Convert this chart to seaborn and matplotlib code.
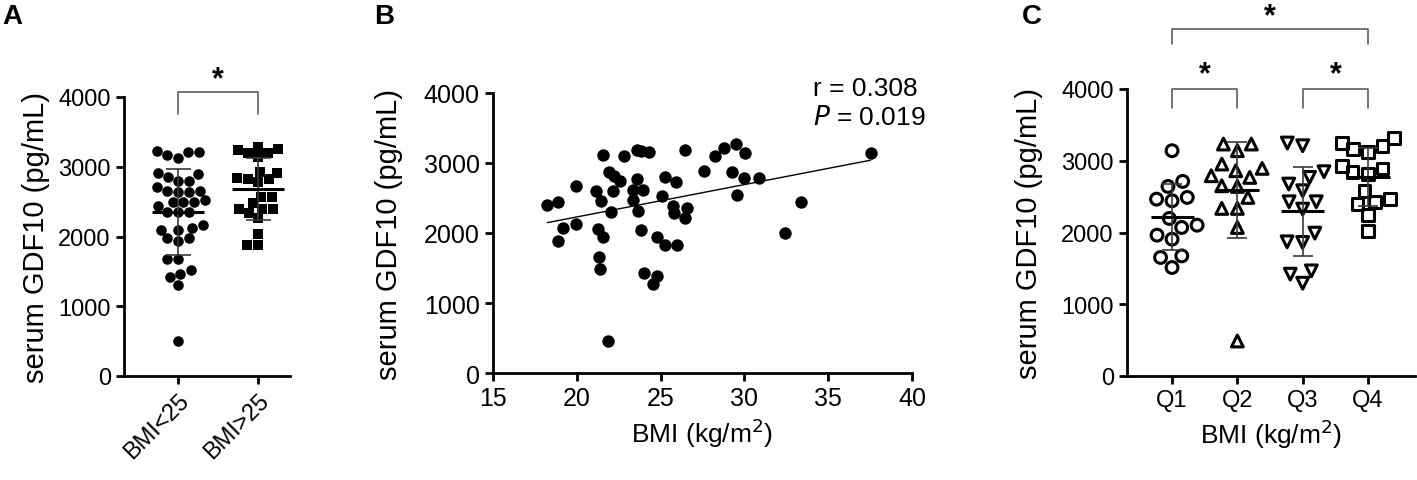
import warnings
import numpy as np
import pandas as pd
import matplotlib
matplotlib.use("Agg")
import matplotlib.pyplot as plt
from matplotlib.collections import PathCollection
import seaborn as sns

warnings.filterwarnings("ignore")

# ---- Panel A: GDF10 by BMI group (pg/mL)
bmi_low = [3167, 3205, 3128, 3205, 3224, 2914, 2857, 2890, 2795, 2795, 2714,
           2657, 2643, 2657, 2643, 2524, 2490, 2490, 2490, 2443, 2357, 2357,
           2357, 2167, 2095, 2095, 2119, 1976, 1976, 1929, 1676, 1676, 1524,
           1467, 1414, 1310, 500]
bmi_high = [3250, 3240, 3140, 3190, 3290, 3190, 2914, 2930, 2843, 2820, 2786,
            2824, 2571, 2571, 2476, 2400, 2400, 2400, 2333, 2262, 2033, 1871,
            1871]
groups_a = ["BMI<25", "BMI>25"]

# ---- Panel B: BMI vs GDF10
bmi = [18.24, 18.86, 19.2, 18.86, 19.93, 19.93, 21.58, 22.82, 23.57, 23.85,
       24.3, 21.15, 21.44, 21.92, 22.24, 22.58, 22.14, 22.04, 21.28, 21.54,
       21.34, 21.4, 21.88, 23.57, 23.37, 23.97, 23.37, 23.67, 23.81, 24.77,
       24.01, 25.07, 26.46, 25.26, 25.92, 25.76, 26.59, 25.8, 26.46, 25.26,
       26.0, 24.77, 24.57, 27.59, 28.25, 28.78, 29.5, 30.04, 29.28, 29.99,
       30.89, 29.58, 32.42, 33.36, 37.53]
gdf10 = [2405, 2438, 2071, 1886, 2667, 2129, 3114, 3105, 3190, 3170,
         3162, 2600, 2457, 2876, 2819, 2748, 2600, 2305, 2057, 1938,
         1662, 1486, 462, 2771, 2619, 2619, 2476, 2314, 2048, 1950,
         1424, 2533, 3190, 2795, 2724, 2381, 2362, 2281, 2210, 1829,
         1833, 1390, 1271, 2890, 3095, 3210, 3271, 3143, 2867, 2786,
         2781, 2543, 1995, 2438, 3143]

# ---- Panel C: GDF10 by BMI quartile
q1 = [3140, 2712, 2642, 2489, 2442, 2465, 2196, 2102, 1963, 2070, 1907,
      1674, 1652, 1512]
q2 = [3233, 3233, 3140, 2894, 2954, 2768, 2791, 2861, 2651, 2642, 2489,
      2336, 2336, 2070, 488]
q3 = [3247, 3209, 2847, 2768, 2675, 2582, 2428, 2428, 2326, 1991, 1861,
      1870, 1465, 1419, 1293]
q4 = [3312, 3200, 3247, 3126, 3163, 2930, 2893, 2838, 2814, 2582, 2428,
      2465, 2396, 2242, 2023]
quartiles = ["Q1", "Q2", "Q3", "Q4"]

sns.set_theme(style="ticks")
plt.rcParams["font.family"] = ["Liberation Sans", "DejaVu Sans"]
plt.rcParams["axes.linewidth"] = 2
plt.rcParams["xtick.major.width"] = 2
plt.rcParams["ytick.major.width"] = 2
plt.rcParams["xtick.major.size"] = 6
plt.rcParams["ytick.major.size"] = 6
plt.rcParams["axes.labelsize"] = 21
plt.rcParams["axes.edgecolor"] = "black"
plt.rcParams["xtick.color"] = "black"
plt.rcParams["ytick.color"] = "black"
plt.rcParams["text.color"] = "black"
plt.rcParams["axes.labelcolor"] = "black"

W, H = 1417, 481
fig = plt.figure(figsize=(W / 100, H / 100), dpi=100)


def px_axes(left, right, top, bottom):
    return fig.add_axes([left / W, 1 - bottom / H, (right - left) / W, (bottom - top) / H])


def mean_sd(ax, pos, vals, half, cap):
    m, s = np.mean(vals), np.std(vals, ddof=1)
    ax.errorbar(pos, m, yerr=s, fmt="none", ecolor="#3a3a3a", elinewidth=1.2,
                capsize=cap, capthick=1.2, zorder=4)
    ax.hlines(m, pos - half, pos + half, color="black", lw=2.2, zorder=5)


def bracket(ax, x0, x1, y_top, y_leg, y_star):
    ax.plot([x0, x0, x1, x1], [y_leg, y_top, y_top, y_leg], color="#505050",
            lw=1.1, clip_on=False)
    ax.text((x0 + x1) / 2, y_star, "*", ha="center", va="center",
            fontsize=22, fontweight="bold", clip_on=False)


# Panel A
ax_a = px_axes(124, 290, 98, 377)
df_a = pd.DataFrame({"group": [groups_a[0]] * len(bmi_low) + [groups_a[1]] * len(bmi_high),
                     "val": bmi_low + bmi_high})
sns.swarmplot(data=df_a[df_a.group == groups_a[0]], x="group", y="val", order=groups_a,
              marker="o", size=7.6, color="black", linewidth=0, ax=ax_a)
sns.swarmplot(data=df_a[df_a.group == groups_a[1]], x="group", y="val", order=groups_a,
              marker="s", size=7.4, color="black", linewidth=0, ax=ax_a)
for i, vals in enumerate([bmi_low, bmi_high]):
    mean_sd(ax_a, i, vals, 0.33, 9)
ax_a.set_xlim(-0.675, 1.4)
ax_a.set_ylim(0, 4000)
ax_a.set_yticks([0, 1000, 2000, 3000, 4000])
ax_a.tick_params(labelsize=17)
ax_a.set_xlabel("")
ax_a.set_ylabel("serum GDF10 (pg/mL)", labelpad=6)
plt.setp(ax_a.get_xticklabels(), rotation=45, ha="right", rotation_mode="anchor")
bracket(ax_a, 0, 1, 4076, 3756, 4255)
sns.despine(ax=ax_a)

# Panel B
ax_b = px_axes(493, 912, 94, 374)
sns.scatterplot(x=bmi, y=gdf10, s=80, color="black", edgecolor="black", linewidth=0, ax=ax_b)
sns.regplot(x=bmi, y=gdf10, scatter=False, ci=None, truncate=True, color="black",
            line_kws={"lw": 1}, ax=ax_b)
ax_b.set_xlim(15, 40)
ax_b.set_ylim(0, 4000)
ax_b.set_xticks([15, 20, 25, 30, 35, 40])
ax_b.set_yticks([0, 1000, 2000, 3000, 4000])
ax_b.tick_params(labelsize=18)
ax_b.set_xlabel("BMI (kg/m$^2$)", fontsize=19)
ax_b.set_ylabel("serum GDF10 (pg/mL)", labelpad=15)
ax_b.text(34.1, 4071, "r = 0.308", fontsize=19, va="center", ha="left", clip_on=False)
ax_b.text(34.1, 3657, "$\\it{P}$ = 0.019", fontsize=19, va="center", ha="left", clip_on=False)
sns.despine(ax=ax_b)

# Panel C
ax_c = px_axes(1127, 1415, 90, 377)
markers_c = ["o", "^", "v", "s"]
for i, vals in enumerate([q1, q2, q3, q4]):
    sns.swarmplot(x=[quartiles[i]] * len(vals), y=vals, order=quartiles,
                  marker=markers_c[i], size=8.5, color="black", linewidth=2.2,
                  edgecolor="black", ax=ax_c)
    mean_sd(ax_c, i, vals, 0.33, 7)
for coll in ax_c.collections:
    if isinstance(coll, PathCollection):
        coll.set_facecolor("none")
        coll.set_edgecolor("black")
ax_c.set_xlim(-0.69, 3.72)
ax_c.set_ylim(0, 4000)
ax_c.set_yticks([0, 1000, 2000, 3000, 4000])
ax_c.tick_params(labelsize=17)
ax_c.set_xlabel("BMI (kg/m$^2$)", fontsize=19)
ax_c.set_ylabel("serum GDF10 (pg/mL)", labelpad=13)
bracket(ax_c, 0, 1, 4006, 3741, 4200)
bracket(ax_c, 2, 3, 4006, 3741, 4200)
bracket(ax_c, 0, 3, 4842, 4623, 5010)
sns.despine(ax=ax_c)

for label, x in [("A", 2), ("B", 374), ("C", 1022)]:
    fig.text(x / W, 1 - 4 / H, label, fontsize=20, fontweight="bold", va="top", ha="left")

fig.savefig("out.png", dpi=100)
